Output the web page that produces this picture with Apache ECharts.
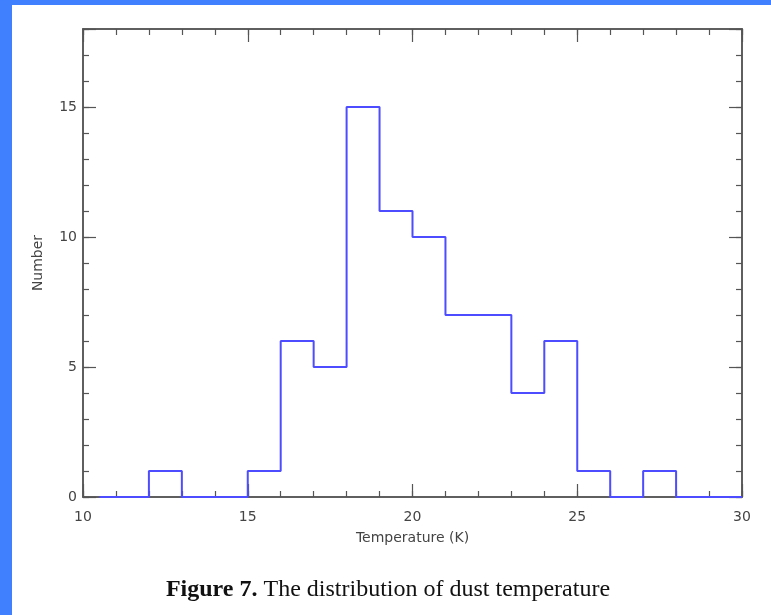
<!DOCTYPE html>
<html>
<head>
<meta charset="utf-8">
<script src="https://cdn.jsdelivr.net/npm/echarts@6/dist/echarts.min.js"></script>
<style>
html,body{margin:0;padding:0;background:#fff;}
#chart{width:771px;height:615px;}
</style>
</head>
<body>
<div id="chart"></div>
<script>
// Histogram bin left edges (K) and counts; the last edge closes the histogram
const binLeft = [10.5, 11, 12, 13, 14, 15, 16, 17, 18, 19, 20, 21, 22, 23, 24, 25, 26, 27, 28, 29];
const counts  = [0, 0, 1, 0, 0, 1, 6, 5, 15, 11, 10, 7, 7, 4, 6, 1, 0, 1, 0, 0];
const lastEdge = 30;
const xTickLabels = [10, 15, 20, 25, 30];
const yTickLabels = [0, 5, 10, 15];
const xTitle = 'Temperature (K)';
const yTitle = 'Number';
const captionBold = 'Figure 7.';
const captionRest = ' The distribution of dust temperature';

const stepData = binLeft.map((x, i) => [x, counts[i]]);
stepData.push([lastEdge, counts[counts.length - 1]]);

const axisColor = '#555';
const textColor = '#444';
const font = 'DejaVu Sans';

function mkX(pos, major, showLabel, name) {
  return {
    type: 'value', position: pos, min: 10, max: 30,
    interval: major ? 5 : 1,
    axisLine: { show: true, onZero: false, lineStyle: { color: axisColor, width: 1.5 } },
    axisTick: { show: true, inside: true, length: major ? 13 : 6, lineStyle: { color: axisColor, width: 1.2 } },
    axisLabel: { show: showLabel, margin: 13, color: textColor, fontFamily: font, fontSize: 14,
      formatter: v => xTickLabels.includes(v) ? String(v) : '' },
    splitLine: { show: false },
    name: name || '', nameLocation: 'middle', nameGap: 34,
    nameTextStyle: { color: textColor, fontFamily: font, fontSize: 14 }
  };
}
function mkY(pos, major, showLabel, name) {
  return {
    type: 'value', position: pos, min: 0, max: 18,
    interval: major ? 5 : 1,
    axisLine: { show: true, onZero: false, lineStyle: { color: axisColor, width: 1.5 } },
    axisTick: { show: true, inside: true, length: major ? 13 : 6, lineStyle: { color: axisColor, width: 1.2 } },
    axisLabel: { show: showLabel, margin: 6, color: textColor, fontFamily: font, fontSize: 14,
      formatter: v => yTickLabels.includes(v) ? String(v) : '' },
    splitLine: { show: false },
    name: name || '', nameLocation: 'middle', nameGap: 38, nameRotate: 90,
    nameTextStyle: { color: textColor, fontFamily: font, fontSize: 14 }
  };
}

const chart = echarts.init(document.getElementById('chart'), null, { renderer: 'canvas' });
chart.setOption({
  animation: false,
  backgroundColor: '#fff',
  grid: { left: 83, top: 29, width: 659, height: 468, containLabel: false },
  xAxis: [
    mkX('bottom', true, true, xTitle),
    mkX('bottom', false, false),
    mkX('top', true, false),
    mkX('top', false, false)
  ],
  yAxis: [
    mkY('left', true, true, yTitle),
    mkY('left', false, false),
    mkY('right', true, false),
    mkY('right', false, false)
  ],
  series: [{
    type: 'line',
    step: 'end',
    data: stepData,
    xAxisIndex: 0, yAxisIndex: 0,
    symbol: 'none',
    lineStyle: { color: '#4d4dff', width: 2 },
    z: 1
  }],
  graphic: [
    { type: 'rect', left: 0, top: 0, shape: { width: 771, height: 5 }, style: { fill: '#4080ff' }, silent: true },
    { type: 'rect', left: 0, top: 0, shape: { width: 12, height: 615 }, style: { fill: '#4080ff' }, silent: true },
    {
      type: 'text', x: 388, y: 578,
      style: {
        text: '{b|' + captionBold + '}{n|' + captionRest + '}',
        align: 'center',
        rich: {
          b: { fontFamily: 'Liberation Serif', fontSize: 24, fontWeight: 'bold', fill: '#111' },
          n: { fontFamily: 'Liberation Serif', fontSize: 24, fill: '#111' }
        }
      }
    }
  ]
});
</script>
</body>
</html>
